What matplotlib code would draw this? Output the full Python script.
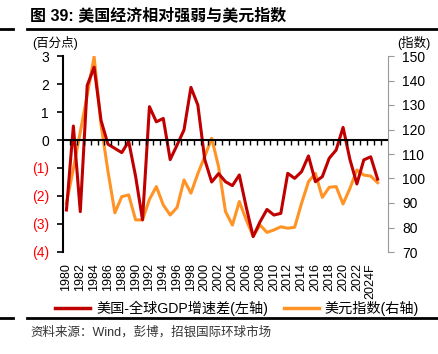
import matplotlib
matplotlib.use("Agg")
import matplotlib.pyplot as plt
import numpy as np
from matplotlib.lines import Line2D

plt.rcParams['font.family'] = ['Liberation Sans', 'Noto Sans CJK SC', 'DejaVu Sans']
plt.rcParams['axes.unicode_minus'] = False

# 年份（1980 - 2025F）
years = [str(y) for y in range(1980, 2024)] + ['2024F', '2025F']
# 美国-全球GDP增速差（百分点，左轴）
gdp_gap = [-2.5, 0.5, -2.56, 1.95, 2.6, 0.7, -0.15, -0.3, -0.45, -0.05,
           -1.3, -2.85, 1.19, 0.65, 0.77, -0.7, -0.18, 0.36, 1.88, 1.25,
           -0.7, -1.5, -1.2, -1.49, -1.63, -1.25, -2.4, -3.45, -2.92, -2.48,
           -2.68, -2.62, -1.19, -1.37, -1.13, -0.57, -1.49, -1.31, -0.65, -0.36,
           0.45, -0.7, -1.57, -0.71, -0.6, -1.4]
# 美元指数（右轴）
dxy = [89.9, 104, 119, 134, 149.7, 122, 103, 86, 92.6, 93.3,
       83.1, 83.1, 91.5, 96.7, 89.2, 85.1, 88.2, 99.4, 94.0, 102,
       109, 116.4, 104.8, 86.5, 81.0, 90.6, 83.1, 76.5, 81.0, 78.0,
       79, 80.3, 79.7, 80.1, 89.9, 98.7, 102.1, 92.3, 96.4, 96.7,
       89.6, 96.0, 103.5, 101.4, 101.0, 98.3]

left_ticks = [-4, -3, -2, -1, 0, 1, 2, 3]
left_labels = ['(4)', '(3)', '(2)', '(1)', '0', '1', '2', '3']
right_ticks = [70, 80, 90, 100, 110, 120, 130, 140, 150]

red = '#C00000'
orange = '#FF9326'

fig = plt.figure(figsize=(4.38, 3.54), dpi=100)
ax = fig.add_axes([63 / 438, 1 - 252 / 354, 325 / 438, 196 / 354])
ax2 = ax.twinx()

x = np.arange(len(years))
ax2.plot(x, dxy, color=orange, lw=2.2, solid_joinstyle='round', zorder=2)
ax.plot(x, gdp_gap, color=red, lw=2.2, solid_joinstyle='round', zorder=3)
ax.set_zorder(ax2.get_zorder() + 1)
ax.patch.set_visible(False)

ax.set_xlim(-0.5, len(years) + 0.5)
ax.set_ylim(-4, 3)
ax2.set_ylim(70, 150)

# 零轴及小刻度
ax.axhline(0, color='black', lw=1.5, zorder=4)
ax.plot(x + 0.5, np.zeros(len(x)), ls='none', marker=3, ms=3.5, mew=1.0,
        color='black', zorder=4)

ax.set_yticks(left_ticks)
ax.set_yticklabels(left_labels)
for lab, v in zip(ax.get_yticklabels(), left_ticks):
    lab.set_color('#FF0000' if v < 0 else 'black')
ax.tick_params(axis='y', direction='out', length=4, width=1.2, labelsize=10, pad=6)

ax2.set_yticks(right_ticks)
ax2.tick_params(axis='y', direction='out', length=4, width=0.8, colors='#999999',
                labelcolor='black', labelsize=10, pad=6)

ax.set_xticks(x[::2])
ax.set_xticklabels(years[::2], rotation=90, fontsize=9)
ax.tick_params(axis='x', length=0, pad=8)

for a in (ax, ax2):
    a.spines['top'].set_visible(False)
    a.spines['bottom'].set_visible(False)
ax.spines['right'].set_visible(False)
ax.spines['left'].set_linewidth(1.5)
ax2.spines['left'].set_visible(False)
ax2.spines['right'].set_color('#999999')
ax2.spines['right'].set_linewidth(0.8)

# 标题与单位
fig.text(30 / 438, 1 - 15 / 354, '图 39: 美国经济相对强弱与美元指数', fontsize=11.5,
         fontweight='bold', va='center', ha='left')
fig.text(32 / 438, 1 - 43 / 354, '(百分点)', fontsize=9, va='center', ha='left')
fig.text(431 / 438, 1 - 43 / 354, '(指数)', fontsize=9, va='center', ha='right')

# 分隔线
for yy in (29, 318):
    fig.add_artist(Line2D([27 / 438, 1.0], [1 - yy / 354] * 2, color='black', lw=2))
    fig.add_artist(Line2D([0, 13 / 438], [1 - yy / 354] * 2, color='black', lw=2))

# 图例
handles = [Line2D([], [], color=red, lw=2.5), Line2D([], [], color=orange, lw=2.5)]
fig.legend(handles, ['美国-全球GDP增速差(左轴)', '美元指数(右轴)'], loc='center',
           bbox_to_anchor=(237 / 438, 1 - 308 / 354), ncol=2, frameon=False,
           fontsize=10.2, handlelength=2.5, columnspacing=1.1, handletextpad=0.4)

fig.text(30 / 438, 1 - 332 / 354, '资料来源：Wind，彭博，招银国际环球市场', fontsize=9,
         color='#333333', va='center', ha='left')

fig.savefig('out.png', dpi=100)
